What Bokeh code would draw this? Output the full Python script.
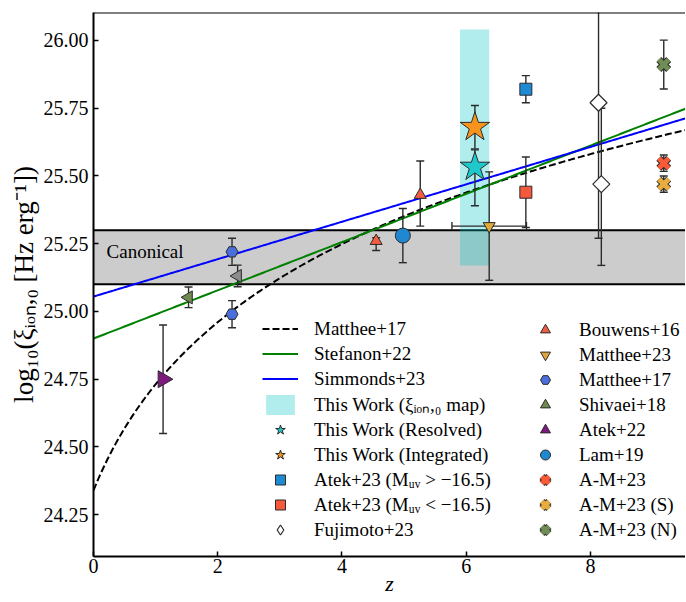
import numpy as np
from bokeh.plotting import figure
from bokeh.models import (ColumnDataSource, Span, Label, Legend, LegendItem,
                          BoxAnnotation, NumeralTickFormatter)
from bokeh.embed import file_html
from bokeh.resources import INLINE

# ---------------- data ----------------
X_RANGE = (0.0, 9.53)
Y_RANGE = (24.096, 26.103)
y_ticks = [24.25, 24.50, 24.75, 25.00, 25.25, 25.50, 25.75, 26.00]
x_ticks = [0, 2, 4, 6, 8]

canonical_lo, canonical_hi = 25.1, 25.3

# relations
matthee17_a, matthee17_b = 24.34, 1.30      # a + b log10(1+z)
stefanon22_a, stefanon22_b = 24.90, 0.089   # a + b z
simmonds23_a, simmonds23_b = 25.055, 0.069  # a + b z

# This Work xi_ion,0 map range
map_z = (5.90, 6.37)
map_y = (25.17, 26.04)

tw_res_z, tw_res_v, tw_res_lo, tw_res_hi = [6.14], [25.533], [0.143], [0.063]
tw_int_z, tw_int_v, tw_int_lo, tw_int_hi = [6.14], [25.68], [0.08], [0.08]

atek23b_z, atek23b_v, atek23b_e = [6.96], [25.82], [0.05]   # M_UV > -16.5
atek23r_z, atek23r_v, atek23r_e = [6.96], [25.44], [0.13]   # M_UV < -16.5

fuji_z = [8.13, 8.175]
fuji_v = [25.77, 25.47]
fuji_lo = [0.50, 0.30]
fuji_hi = [0.50, 0.28]

bouwens_z = [4.55, 5.26]
bouwens_v = [25.26, 25.43]
bouwens_lo = [0.035, 0.115]
bouwens_hi = [0.012, 0.125]

matthee23_z, matthee23_v = [6.37], [25.315]
matthee23_ve, matthee23_ze = [0.2], [0.6]

matthee17_z = [2.23, 2.23]
matthee17_v = [25.22, 24.99]
matthee17_e = [0.05, 0.05]

shivaei_z = [1.53, 2.32]
shivaei_v = [25.052, 25.131]
shivaei_e = [0.038, 0.04]
shivaei_col = ["#6e8a50", "#8c8c8c"]

atek22_z, atek22_v, atek22_e = [1.12], [24.75], [0.2]
lam19_z, lam19_v, lam19_e = [4.98], [25.28], [0.1]

am23_z, am23_v, am23_e = [9.18], [25.547], [0.03]
am23s_z, am23s_v, am23s_e = [9.18], [25.47], [0.03]
am23n_z, am23n_v, am23n_e = [9.18], [25.911], [0.09]

FONT = "Liberation Serif"
EDGE = "#2b2b2b"

# ---------------- figure ----------------
p = figure(width=685, height=601, x_range=X_RANGE, y_range=Y_RANGE,
           output_backend="svg", toolbar_location=None,
           min_border_left=93, min_border_right=0, min_border_top=12,
           min_border_bottom=45)
p.outline_line_color = None
p.grid.visible = False

for ax in (p.xaxis[0], p.yaxis[0]):
    ax.axis_line_width = 2
    ax.axis_line_color = "black"
    ax.major_tick_in = 5
    ax.major_tick_out = 0
    ax.major_tick_line_width = 1.5
    ax.major_tick_line_color = "black"
    ax.minor_tick_line_color = None
    ax.major_label_text_font = FONT
    ax.major_label_text_font_size = "20px"
    ax.major_label_text_color = "black"
    ax.axis_label_text_font = FONT
    ax.axis_label_text_color = "black"

p.xaxis.ticker = x_ticks
p.yaxis.ticker = y_ticks
p.yaxis.formatter = NumeralTickFormatter(format="0.00")
p.xaxis.major_label_standoff = 2
p.yaxis.major_label_standoff = 5

p.xaxis.axis_label = "z"
p.xaxis.axis_label_text_font_style = "italic"
p.xaxis.axis_label_text_font_size = "22px"
p.xaxis.axis_label_standoff = -5
p.yaxis.axis_label = "log\u2081\u2080(\u03be\u1d62\u2092\u2099,\u2080 [Hz erg\u207b\u00b9])"
p.yaxis.axis_label_text_font_style = "normal"
p.yaxis.axis_label_text_font_size = "27px"
p.yaxis.axis_label_standoff = 2

# top spine
p.add_layout(Span(location=Y_RANGE[1], dimension="width", line_color="black",
                  line_width=2))

# canonical band
p.add_layout(BoxAnnotation(bottom=canonical_lo, top=canonical_hi, fill_color="#cccccc",
                           fill_alpha=1.0, line_color=None, level="underlay"))
for loc in (canonical_lo, canonical_hi):
    p.add_layout(Span(location=loc, dimension="width", line_color="black",
                      line_width=2, level="underlay"))
p.add_layout(Label(x=0.21, y=25.222, text="Canonical", text_font=FONT,
                   text_font_size="19px", text_baseline="middle", text_color="black"))

# map region
r_map = p.quad(left=[map_z[0]], right=[map_z[1]], bottom=[map_y[0]], top=[map_y[1]],
               fill_color="#00c4c4", fill_alpha=0.3, line_color=None)

# relations
zz = np.linspace(0.0, X_RANGE[1], 300)
r_m17 = p.line(zz, matthee17_a + matthee17_b * np.log10(1 + zz), line_color="black",
               line_width=2, line_dash="7 3")
r_stef = p.line(zz, stefanon22_a + stefanon22_b * zz, line_color="#008000", line_width=2)
r_simm = p.line(zz, simmonds23_a + simmonds23_b * zz, line_color="#0000ff", line_width=2)


def errbars(z, v, lo, hi, xlo=None, xhi=None):
    z = np.asarray(z, float)
    v = np.asarray(v, float)
    lo = np.asarray(lo, float)
    hi = np.asarray(hi, float)
    p.segment(x0=z, y0=v - lo, x1=z, y1=v + hi, line_color=EDGE, line_width=1.4)
    p.scatter(np.concatenate([z, z]), np.concatenate([v - lo, v + hi]), marker="dash",
              size=8, line_color=EDGE, line_width=1.4)
    if xlo is not None:
        xlo = np.asarray(xlo, float)
        xhi = np.asarray(xhi, float)
        p.segment(x0=z - xlo, y0=v, x1=z + xhi, y1=v, line_color=EDGE, line_width=1.4)
        p.scatter(np.concatenate([z - xlo, z + xhi]), np.concatenate([v, v]),
                  marker="dash", angle=np.pi / 2, size=8, line_color=EDGE, line_width=1.4)


# error bars first
errbars(bouwens_z, bouwens_v, bouwens_lo, bouwens_hi)
errbars(matthee23_z, matthee23_v, matthee23_ve, matthee23_ve, matthee23_ze, matthee23_ze)
errbars(matthee17_z, matthee17_v, matthee17_e, matthee17_e)
errbars(shivaei_z, shivaei_v, shivaei_e, shivaei_e)
errbars(atek22_z, atek22_v, atek22_e, atek22_e)
errbars(lam19_z, lam19_v, lam19_e, lam19_e)
errbars(am23_z, am23_v, am23_e, am23_e)
errbars(am23s_z, am23s_v, am23s_e, am23s_e)
errbars(am23n_z, am23n_v, am23n_e, am23n_e)
errbars(atek23b_z, atek23b_v, atek23b_e, atek23b_e)
errbars(atek23r_z, atek23r_v, atek23r_e, atek23r_e)
errbars(fuji_z, fuji_v, fuji_lo, fuji_hi)
errbars(tw_res_z, tw_res_v, tw_res_lo, tw_res_hi)
errbars(tw_int_z, tw_int_v, tw_int_lo, tw_int_hi)

# markers
r_bouw = p.scatter(bouwens_z, bouwens_v, marker="triangle", size=12,
                   fill_color="#f25c41", line_color=EDGE, line_width=1)
r_m23 = p.scatter(matthee23_z, matthee23_v, marker="inverted_triangle", size=12,
                  fill_color="#e0a83a", line_color=EDGE, line_width=1)
r_m17p = p.scatter(matthee17_z, matthee17_v, marker="hex", size=12,
                   fill_color="#4a6fdc", line_color=EDGE, line_width=1)
shiv_src = ColumnDataSource(dict(z=shivaei_z, v=shivaei_v, c=shivaei_col))
r_shiv = p.scatter("z", "v", source=shiv_src, marker="triangle", angle=np.pi / 2, size=13,
                   fill_color="c", line_color=EDGE, line_width=1)
r_atek22 = p.scatter(atek22_z, atek22_v, marker="triangle", angle=-np.pi / 2, size=17,
                     fill_color="#7d1a7d", line_color=EDGE, line_width=1)
r_lam = p.scatter(lam19_z, lam19_v, marker="circle", size=15,
                  fill_color="#1f88d0", line_color=EDGE, line_width=1)


def xmark(z, v, col):
    rb = p.scatter(z, v, marker="x", size=14, line_color=EDGE, line_width=7)
    rc = p.scatter(z, v, marker="x", size=14, line_color=col, line_width=5)
    return [rb, rc]


r_am = xmark(am23_z, am23_v, "#fa5a35")
r_ams = xmark(am23s_z, am23s_v, "#e8ac3f")
r_amn = xmark(am23n_z, am23n_v, "#6f8d55")

r_atb = p.scatter(atek23b_z, atek23b_v, marker="square", size=12,
                  fill_color="#1f8ad4", line_color=EDGE, line_width=1)
r_atr = p.scatter(atek23r_z, atek23r_v, marker="square", size=12,
                  fill_color="#f4593b", line_color=EDGE, line_width=1)
# diamond (used for the legend icon), covered by the rotated square on the plot
r_fuji_leg = p.scatter(fuji_z, fuji_v, marker="diamond", size=11,
                       fill_color="white", line_color=EDGE, line_width=1.2)
r_fuji = p.scatter(fuji_z, fuji_v, marker="square", angle=np.pi / 4, size=12,
                   fill_color="white", line_color=EDGE, line_width=1.2)
r_twr = p.scatter(tw_res_z, tw_res_v, marker="star", size=31,
                  fill_color="#1ec8cb", line_color=EDGE, line_width=1)
r_twi = p.scatter(tw_int_z, tw_int_v, marker="star", size=31,
                  fill_color="#f7941d", line_color=EDGE, line_width=1)

# legends
common = dict(orientation="vertical", glyph_width=36, glyph_height=25, label_height=25,
              label_standoff=16, spacing=0, padding=0, margin=0,
              border_line_color=None, background_fill_alpha=0,
              label_text_font=FONT, label_text_font_size="19px",
              label_text_color="black")

items1 = [
    LegendItem(label="Matthee+17", renderers=[r_m17]),
    LegendItem(label="Stefanon+22", renderers=[r_stef]),
    LegendItem(label="Simmonds+23", renderers=[r_simm]),
    LegendItem(label="This Work (\u03be\u1d62\u2092\u2099,\u2080 map)", renderers=[r_map]),
    LegendItem(label="This Work (Resolved)", renderers=[r_twr]),
    LegendItem(label="This Work (Integrated)", renderers=[r_twi]),
    LegendItem(label="Atek+23 (M\u1d64\u1d65 > \u221216.5)", renderers=[r_atb]),
    LegendItem(label="Atek+23 (M\u1d64\u1d65 < \u221216.5)", renderers=[r_atr]),
    LegendItem(label="Fujimoto+23", renderers=[r_fuji_leg]),
]
items2 = [
    LegendItem(label="Bouwens+16", renderers=[r_bouw]),
    LegendItem(label="Matthee+23", renderers=[r_m23]),
    LegendItem(label="Matthee+17", renderers=[r_m17p]),
    LegendItem(label="Shivaei+18", renderers=[r_shiv]),
    LegendItem(label="Atek+22", renderers=[r_atek22]),
    LegendItem(label="Lam+19", renderers=[r_lam]),
    LegendItem(label="A-M+23", renderers=r_am),
    LegendItem(label="A-M+23 (S)", renderers=r_ams),
    LegendItem(label="A-M+23 (N)", renderers=r_amn),
]
p.add_layout(Legend(items=items1, location=(169, 14), **common))
p.add_layout(Legend(items=items2, location=(434, 14), **common))

open("out.html", "w").write(file_html(p, INLINE))
